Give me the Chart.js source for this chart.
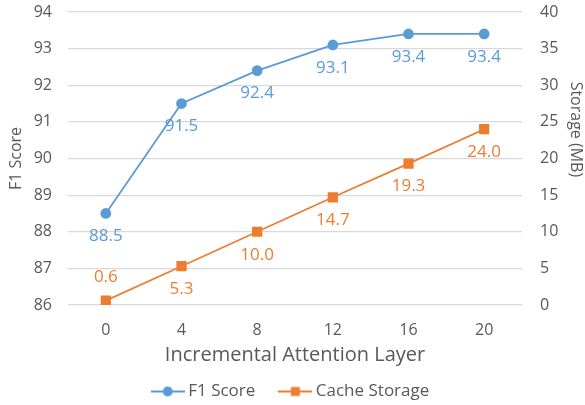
<!DOCTYPE html>
<html>
<head>
<meta charset="utf-8">
<script src="https://cdn.jsdelivr.net/npm/chart.js@4/dist/chart.umd.min.js"></script>
<style>
  html, body { margin: 0; padding: 0; background: #fff; }
  #wrap { width: 585px; height: 405px; }
</style>
</head>
<body>
<div id="wrap"><canvas id="chart" width="585" height="405"></canvas></div>
<script>
// Chart data
const layers = ["0", "4", "8", "12", "16", "20"];
const f1Scores = [88.5, 91.5, 92.4, 93.1, 93.4, 93.4];
const cacheStorage = [0.6, 5.3, 10.0, 14.7, 19.3, 24.0];
// label placement: 1 = below point, -1 = above
const cacheLabelSide = [-1, 1, 1, 1, 1, 1];

const BLUE = "#5B9BD5";
const ORANGE = "#ED7D31";
const TEXT = "#595959";
const GRID = "#D9D9D9";
const FONT = "'Open Sans', 'Liberation Sans', sans-serif";

// Legend sample: line with marker in the middle
function legendIcon(color, shape) {
  const c = document.createElement("canvas");
  c.width = 34;
  c.height = 12;
  const g = c.getContext("2d");
  g.strokeStyle = color;
  g.lineWidth = 2;
  g.beginPath();
  g.moveTo(0, 6);
  g.lineTo(34, 6);
  g.stroke();
  g.fillStyle = color;
  if (shape === "circle") {
    g.beginPath();
    g.arc(17, 6, 5, 0, Math.PI * 2);
    g.fill();
  } else {
    g.fillRect(12.5, 1.5, 9, 9);
  }
  return c;
}

// Draw value labels next to points
const valueLabels = {
  id: "valueLabels",
  afterDatasetsDraw(chart) {
    const ctx = chart.ctx;
    ctx.save();
    ctx.font = "17px " + FONT;
    ctx.textAlign = "center";
    ctx.textBaseline = "middle";
    chart.data.datasets.forEach((ds, i) => {
      const meta = chart.getDatasetMeta(i);
      ctx.fillStyle = ds.borderColor;
      meta.data.forEach((pt, j) => {
        const side = ds.labelSide ? ds.labelSide[j] : 1;
        ctx.fillText(ds.data[j].toFixed(1), pt.x, pt.y + side * 23);
      });
    });
    ctx.restore();
  }
};

// no extra room above/below the value axes
function trimPadding(scale, width) {
  scale.width = width;
  scale.paddingTop = 0;
  scale.paddingBottom = 0;
}

const ctx = document.getElementById("chart").getContext("2d");
new Chart(ctx, {
  type: "line",
  data: {
    labels: layers,
    datasets: [
      {
        label: "F1 Score",
        data: f1Scores,
        yAxisID: "y",
        borderColor: BLUE,
        backgroundColor: BLUE,
        borderWidth: 1.75,
        pointStyle: "circle",
        pointRadius: 4.5,
        pointHoverRadius: 4.5,
        legendIcon: legendIcon(BLUE, "circle")
      },
      {
        label: "Cache Storage",
        data: cacheStorage,
        yAxisID: "y2",
        borderColor: ORANGE,
        backgroundColor: ORANGE,
        borderWidth: 1.75,
        pointStyle: "rect",
        pointRadius: 6,
        pointHoverRadius: 6,
        labelSide: cacheLabelSide,
        legendIcon: legendIcon(ORANGE, "rect")
      }
    ]
  },
  options: {
    responsive: false,
    animation: false,
    layout: { padding: { top: 12, left: 0, right: 0, bottom: -5 } },
    plugins: {
      tooltip: { enabled: false },
      legend: {
        position: "bottom",
        labels: {
          color: TEXT,
          font: { family: FONT, size: 17 },
          usePointStyle: true,
          pointStyleWidth: 24,
          boxHeight: 12,
          padding: 28,
          generateLabels(chart) {
            return chart.data.datasets.map((ds, i) => ({
              text: ds.label,
              fillStyle: ds.borderColor,
              strokeStyle: ds.borderColor,
              fontColor: TEXT,
              pointStyle: ds.legendIcon,
              datasetIndex: i,
              lineWidth: 0
            }));
          }
        }
      }
    },
    scales: {
      x: {
        offset: true,
        grid: { display: false },
        border: { display: false },
        ticks: { color: TEXT, font: { family: FONT, size: 16 }, padding: 8 },
        title: {
          display: true,
          text: "Incremental Attention Layer",
          color: TEXT,
          font: { family: FONT, size: 20 },
          padding: { top: 0, bottom: -12 }
        },
        afterFit(scale) { scale.height = 50; }
      },
      y: {
        position: "left",
        min: 86,
        max: 94,
        grid: { color: GRID, lineWidth: 1.25, drawTicks: false },
        border: { display: false },
        ticks: { stepSize: 1, color: TEXT, font: { family: FONT, size: 16 }, padding: 16 },
        title: {
          display: true,
          text: "F1 Score",
          color: TEXT,
          font: { family: FONT, size: 16 },
          padding: { top: 7, bottom: 0 }
        },
        afterFit(scale) { trimPadding(scale, 68); }
      },
      y2: {
        position: "right",
        min: 0,
        max: 40,
        grid: { display: false, drawTicks: false },
        border: { display: false },
        ticks: { stepSize: 5, color: TEXT, font: { family: FONT, size: 16 }, padding: 18 },
        title: {
          display: true,
          text: "Storage (MB)\u00A0\u00A0\u00A0\u00A0\u00A0\u00A0\u00A0\u00A0\u00A0\u00A0\u00A0\u00A0\u00A0\u00A0",
          color: TEXT,
          font: { family: FONT, size: 16 },
          padding: { top: 0, bottom: 0 }
        },
        afterFit(scale) { trimPadding(scale, 63); }
      }
    }
  },
  plugins: [valueLabels]
});
</script>
</body>
</html>
